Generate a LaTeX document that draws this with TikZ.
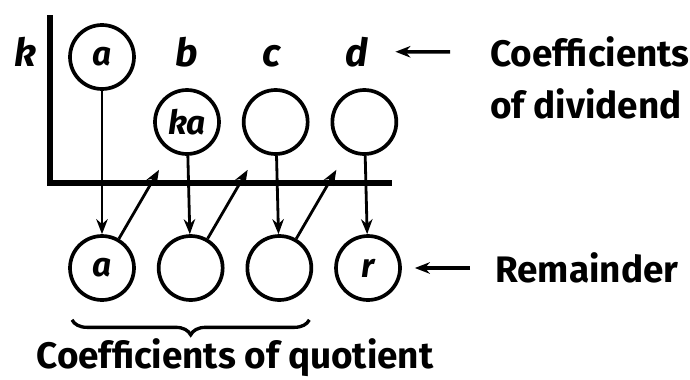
\documentclass[tikz,border=0pt]{standalone}
\usepackage{fontspec}
\setmainfont{Fira Sans}
\usetikzlibrary{positioning,arrows.meta,calc,decorations.pathreplacing}

\begin{document}
\begin{tikzpicture}[
x=0.02cm, y=-0.02cm,
node distance=0.42cm,
coef/.style={draw, circle, minimum size=1.28cm, inner sep=0pt, line width=2.1pt, font=\fontsize{19}{23}\selectfont\bfseries\itshape},
var/.style={font=\fontsize{22}{26}\selectfont\bfseries\itshape, inner sep=1pt},
lbl/.style={font=\fontsize{21}{25}\selectfont\bfseries, inner sep=0pt},
axis/.style={line width=2.9pt},
arr/.style={-{Stealth[length=3mm, width=2.3mm]}, line width=1.6pt},
brace/.style={decorate, decoration={brace, mirror, amplitude=0.3cm}, line width=1.9pt}
]
\useasboundingbox (0,0) rectangle (690,379);
\node[var, anchor=base] (k) at (25,66) {k};
\node[coef] (ta) at (102,57) {a};
\node[var, anchor=base] (b) at (187,66) {b};
\node[var, anchor=base] (c) at (272,66) {c};
\node[var, anchor=base] (d) at (357,66) {d};
\node[coef] (mb) at (187,122) {ka};
\node[coef, right=of mb] (mc) {};
\node[coef, right=of mc] (md) {};
\node[coef] (qa) at (102,268) {a};
\node[coef, right=of qa] (qb) {};
\node[coef, right=of qb] (qc) {};
\node[coef, right=of qc] (qr) {r};
\node[lbl, anchor=west] (divtxt) at (490,52) {Coefficients};
\node[lbl, anchor=west] (divtxt2) at (490,104) {of dividend};
\node[lbl, anchor=west] (remtxt) at (495,268) {Remainder};
\node[lbl] (quot) at ($(qa)!0.5!(qr)+(0,90)$) {Coefficients of quotient};
\coordinate[below left=0.28cm and 0.56cm of mb.south] (pb);
\coordinate[below left=0.28cm and 0.56cm of mc.south] (pc);
\coordinate[below left=0.28cm and 0.56cm of md.south] (pd);
\draw[axis] (50,15) -- (50,183) -- (392,183);
\draw[arr] (ta) -- (qa);
\draw[arr] (mb) -- (qb);
\draw[arr] (mc) -- (qc);
\draw[arr] (md) -- (qr);
\draw[arr] (qa.60) -- (pb);
\draw[arr] (qb.60) -- (pc);
\draw[arr] (qc.60) -- (pd);
\draw[arr, line width=2pt, shorten <=0.8cm, shorten >=0.5cm] (divtxt.west) -- (d.east);
\draw[arr, line width=2pt, shorten <=0.5cm, shorten >=0.26cm] (remtxt.west) -- (qr.east);
\draw[brace] ([xshift=-0.6cm,yshift=-0.36cm]qa.south) -- ([xshift=0.6cm,yshift=-0.36cm]qc.south);
\end{tikzpicture}
\end{document}
